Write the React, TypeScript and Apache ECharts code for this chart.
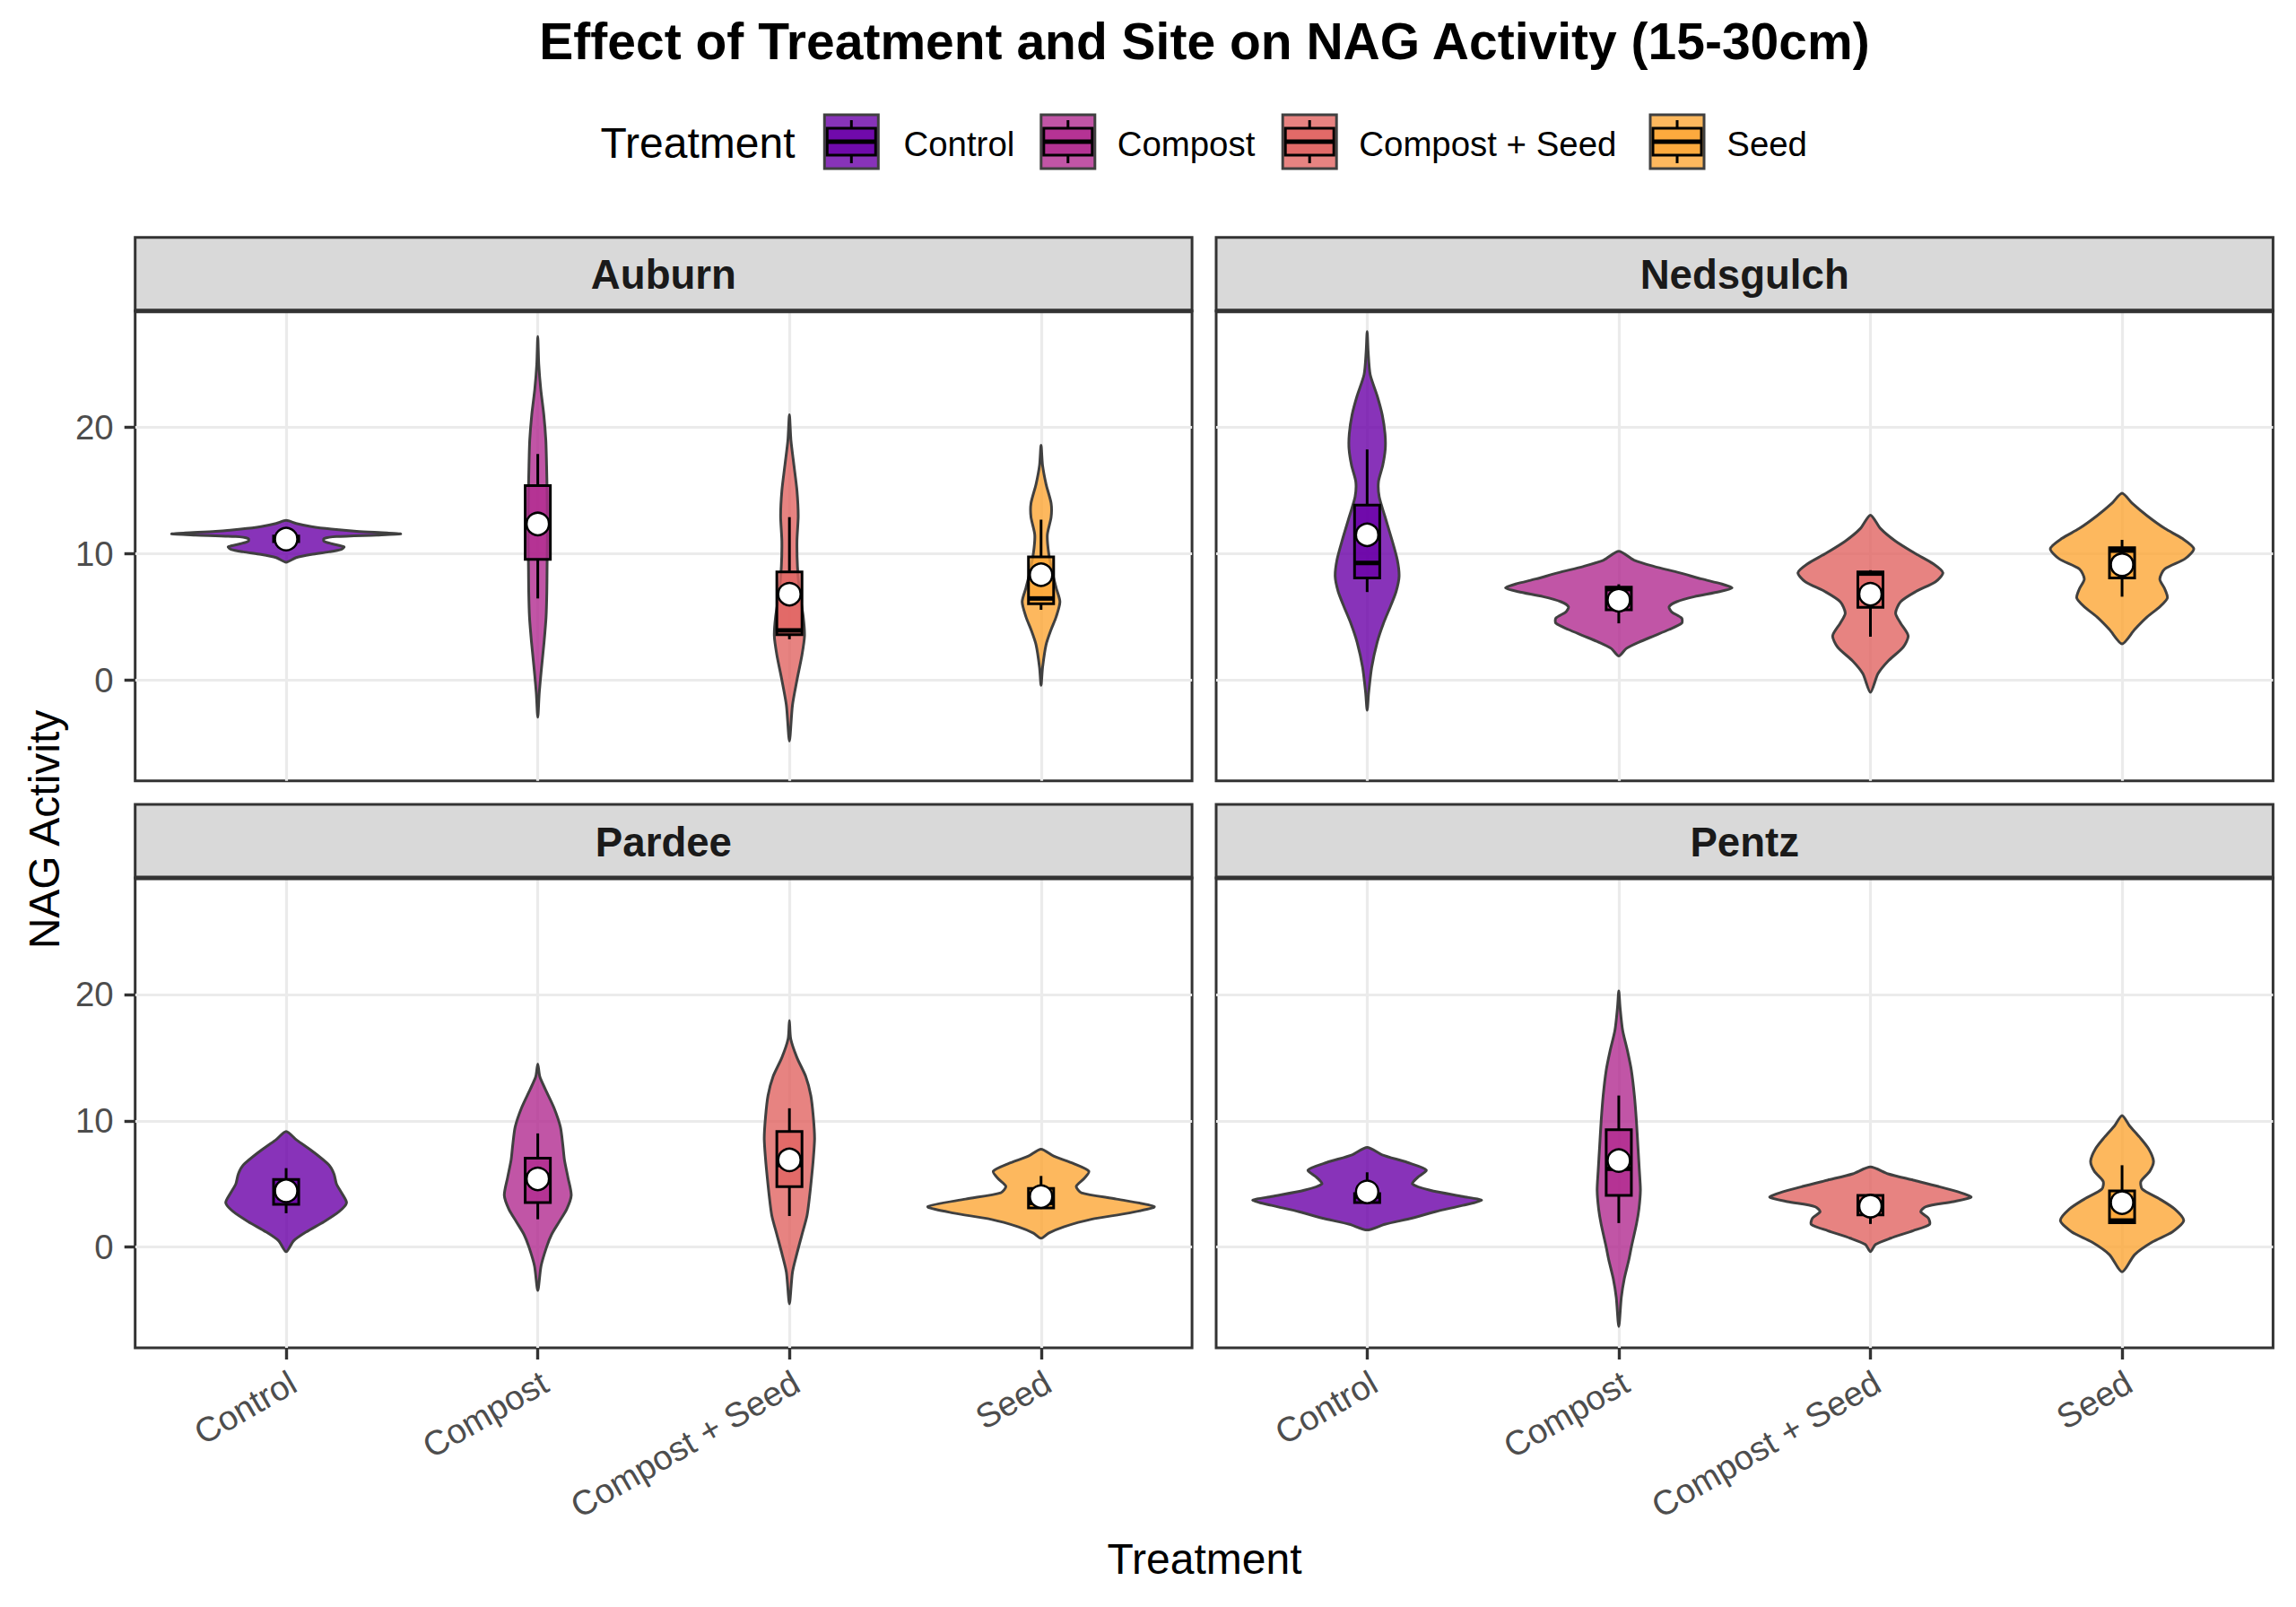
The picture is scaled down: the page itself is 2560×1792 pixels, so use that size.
import React, { useEffect, useRef } from "react";
import * as echarts from "echarts";

// ---------------- data ----------------
const sites = ["Auburn", "Nedsgulch", "Pardee", "Pentz"];
const treatments = ["Control", "Compost", "Compost + Seed", "Seed"];
const yTickValues = [0, 10, 20];

// violin outlines per treatment: [value, half-width in category units]
const violinAuburn: number[][][] = [
  [[12.64,0],[12.4,0.04],[12.15,0.1],[11.95,0.18],[11.78,0.28],[11.65,0.4],[11.57,0.455],[11.48,0.36],[11.36,0.2],[11.2,0.15],[11.0,0.15],[10.8,0.18],[10.55,0.23],[10.35,0.22],[10.15,0.17],[9.95,0.1],[9.7,0.04],[9.33,0]],
  [[27.2,0],[25,0.004],[23,0.012],[21,0.024],[19,0.032],[17,0.035],[15,0.037],[13,0.038],[11,0.038],[9,0.037],[7,0.036],[5,0.033],[3,0.025],[1,0.015],[-1,0.006],[-2.95,0]],
  [[21.0,0],[19,0.006],[17,0.018],[15,0.03],[13,0.035],[11,0.03],[9,0.032],[7,0.04],[5,0.055],[3.5,0.06],[2,0.05],[0,0.03],[-2,0.012],[-4.83,0]],
  [[18.6,0],[17,0.006],[15.5,0.02],[14,0.04],[12.9,0.04],[11.5,0.025],[10.1,0.03],[8.5,0.045],[7.3,0.06],[6.2,0.075],[5,0.06],[4,0.04],[2.8,0.02],[1,0.006],[-0.42,0]],
];
const violinNedsgulch: number[][][] = [
  [[27.6,0],[26,0.004],[24.2,0.012],[22.5,0.04],[21,0.06],[19.5,0.071],[18.3,0.072],[17,0.062],[15.7,0.045],[14.5,0.048],[13,0.07],[11,0.1],[9.5,0.12],[8.2,0.127],[7,0.115],[5.9,0.094],[4.5,0.065],[3,0.04],[1,0.018],[-1,0.006],[-2.4,0]],
  [[10.2,0],[9.5,0.06],[9.0,0.14],[8.5,0.24],[8.0,0.33],[7.6,0.41],[7.3,0.45],[7.0,0.4],[6.6,0.3],[6.2,0.23],[5.8,0.2],[5.4,0.21],[4.9,0.25],[4.5,0.25],[4.0,0.2],[3.5,0.14],[3.0,0.08],[2.5,0.03],[1.9,0]],
  [[13.06,0],[12,0.04],[11,0.1],[10,0.18],[9.2,0.25],[8.5,0.288],[7.8,0.26],[7,0.18],[6.2,0.12],[5.3,0.1],[4.5,0.12],[3.5,0.15],[2.6,0.13],[1.5,0.07],[0.5,0.03],[-0.98,0]],
  [[14.8,0],[14,0.04],[13,0.1],[12,0.17],[11.2,0.24],[10.4,0.285],[9.6,0.25],[8.8,0.17],[8,0.15],[7.2,0.17],[6.5,0.18],[5.8,0.15],[5,0.1],[4,0.05],[2.87,0]],
];
const violinPardee: number[][][] = [
  [[9.15,0],[8.5,0.04],[7.5,0.11],[6.5,0.17],[5.8,0.19],[5,0.2],[4.3,0.22],[3.5,0.24],[2.8,0.21],[2,0.15],[1.2,0.08],[0.5,0.03],[-0.37,0]],
  [[14.5,0],[13.5,0.008],[12.5,0.03],[11,0.065],[9.5,0.09],[8,0.1],[6.9,0.106],[5.5,0.12],[4.1,0.133],[3,0.115],[2,0.085],[1,0.055],[0,0.035],[-1.5,0.013],[-3.44,0]],
  [[17.94,0],[16.5,0.005],[15,0.03],[13.5,0.065],[12,0.085],[10.3,0.095],[8.6,0.1],[7,0.095],[5.5,0.088],[4,0.08],[2.5,0.07],[1,0.05],[-0.5,0.03],[-2,0.012],[-4.5,0]],
  [[7.75,0],[7.2,0.05],[6.6,0.13],[6.0,0.19],[5.4,0.17],[4.8,0.14],[4.3,0.16],[3.8,0.3],[3.2,0.45],[2.7,0.35],[2.2,0.2],[1.6,0.09],[1.1,0.03],[0.7,0]],
];
const violinPentz: number[][][] = [
  [[7.89,0],[7.3,0.06],[6.7,0.16],[6.1,0.235],[5.5,0.2],[5.0,0.18],[4.5,0.25],[4.0,0.38],[3.7,0.455],[3.3,0.38],[2.8,0.27],[2.3,0.18],[1.8,0.07],[1.35,0]],
  [[20.28,0],[19,0.005],[17.2,0.015],[15.5,0.035],[14,0.05],[12,0.062],[10,0.07],[8,0.076],[6,0.082],[4.5,0.086],[3,0.08],[1.8,0.07],[0,0.05],[-1,0.04],[-2.5,0.022],[-4,0.01],[-6.3,0]],
  [[6.34,0],[5.8,0.07],[5.3,0.17],[4.8,0.27],[4.3,0.36],[3.95,0.4],[3.6,0.33],[3.2,0.22],[2.8,0.2],[2.3,0.23],[1.8,0.235],[1.3,0.17],[0.7,0.08],[0.2,0.02],[-0.37,0]],
  [[10.42,0],[9.6,0.03],[8.7,0.07],[7.8,0.105],[6.8,0.125],[6,0.11],[5.2,0.075],[4.6,0.08],[3.8,0.15],[3.0,0.21],[2.1,0.245],[1.2,0.2],[0.4,0.12],[-0.6,0.05],[-1.97,0]],
];

// boxplot stats: [lower whisker, q1, median, q3, upper whisker]
const boxAuburn = [[10.75,10.95,11.1,11.4,11.6],[6.46,9.55,12.2,15.4,17.9],[3.23,3.6,3.93,8.57,12.9],[5.56,6.04,6.46,9.75,12.7]];
const boxNedsgulch = [[6.97,8.09,9.27,13.85,18.26],[4.49,5.56,7.2,7.36,7.58],[3.43,5.76,8.43,8.57,8.7],[6.6,8.09,10.25,10.48,11.1]];
const boxPardee = [[2.68,3.38,4.3,5.35,6.25],[2.2,3.52,5.3,7.04,9.0],[2.46,4.79,6.5,9.15,10.99],[3.05,3.1,3.5,4.65,5.63]];
const boxPentz = [[3.4,3.52,4.0,4.23,5.92],[1.9,4.09,6.2,9.3,12.0],[1.83,2.54,3.2,4.09,4.23],[1.92,1.92,2.1,4.45,6.48]];

// group means
const meanAuburn = [11.16, 12.36, 6.8, 8.34];
const meanNedsgulch = [11.5, 6.32, 6.8, 9.13];
const meanPardee = [4.45, 5.4, 6.9, 4.0];
const meanPentz = [4.37, 6.85, 3.24, 3.52];

const violins = [violinAuburn, violinNedsgulch, violinPardee, violinPentz];
const boxes = [boxAuburn, boxNedsgulch, boxPardee, boxPentz];
const means = [meanAuburn, meanNedsgulch, meanPardee, meanPentz];

// ---------------- styling / layout ----------------
const FONT = "'Liberation Sans', Arial, Helvetica, sans-serif";
const fills = ["rgba(106,0,168,0.8)", "rgba(177,42,144,0.8)", "rgba(225,100,98,0.8)", "rgba(252,166,54,0.8)"];
const PANEL_W = 1178.4;
const PANEL_H = 524;
const panelPos = [
  { left: 150.7, top: 346.7 },
  { left: 1356, top: 346.7 },
  { left: 150.7, top: 979 },
  { left: 1356, top: 979 },
];
const STRIP_H = 82;
const Y_MIN = -7.98;
const Y_MAX = 29.23;
const LW = 3;

function makeRender(siteIdx: number) {
  return (params: any, api: any) => {
    const t = api.value(0) as number;
    const prof = violins[siteIdx][t - 1];
    const right = prof.map(([y, w]) => api.coord([t + w, y]));
    const left = prof.slice(1, -1).reverse().map(([y, w]) => api.coord([t - w, y]));
    const [lo, q1, med, q3, hi] = boxes[siteIdx][t - 1];
    const c = (x: number, y: number) => api.coord([x, y]);
    const bTL = c(t - 0.05, q3);
    const bBR = c(t + 0.05, q1);
    const mL = c(t - 0.05, med);
    const mR = c(t + 0.05, med);
    const wTop = c(t, hi);
    const wQ3 = c(t, q3);
    const wQ1 = c(t, q1);
    const wBot = c(t, lo);
    return {
      type: "group",
      children: [
        {
          type: "polygon",
          shape: { points: right.concat(left), smooth: 0.25 },
          style: { fill: fills[t - 1], stroke: "#404040", lineWidth: LW },
        },
        {
          type: "line",
          shape: { x1: wTop[0], y1: wTop[1], x2: wQ3[0], y2: wQ3[1] },
          style: { stroke: "#000", lineWidth: LW },
        },
        {
          type: "line",
          shape: { x1: wQ1[0], y1: wQ1[1], x2: wBot[0], y2: wBot[1] },
          style: { stroke: "#000", lineWidth: LW },
        },
        {
          type: "rect",
          shape: { x: bTL[0], y: bTL[1], width: bBR[0] - bTL[0], height: bBR[1] - bTL[1] },
          style: { fill: fills[t - 1], stroke: "#000", lineWidth: LW },
        },
        {
          type: "line",
          shape: { x1: mL[0], y1: mL[1], x2: mR[0], y2: mR[1] },
          style: { stroke: "#000", lineWidth: 5 },
        },
      ],
    };
  };
}

function buildOption() {
  const grid = panelPos.map((p) => ({
    left: p.left,
    top: p.top,
    width: PANEL_W,
    height: PANEL_H,
    show: true,
    backgroundColor: "#FFFFFF",
    borderColor: "#333333",
    borderWidth: LW,
    containLabel: false,
    outerBoundsMode: "none",
  }));

  const xAxis = panelPos.map((_, i) => {
    const bottom = i >= 2;
    return {
      type: "value",
      gridIndex: i,
      min: 0.4,
      max: 4.6,
      axisLine: { show: false, onZero: false },
      axisTick: {
        show: bottom,
        customValues: [1, 2, 3, 4],
        length: 13,
        lineStyle: { color: "#333333", width: 3.4 },
      },
      axisLabel: {
        show: bottom,
        customValues: [1, 2, 3, 4],
        formatter: (v: number) => treatments[Math.round(v) - 1] || "",
        rotate: 30,
        margin: 40,
        padding: [0, -9, 0, 0],
        fontSize: 38.4,
        color: "#4D4D4D",
        fontFamily: FONT,
      },
      splitLine: { show: true, lineStyle: { color: "#EBEBEB", width: 3.2 } },
    };
  });

  const yAxis = panelPos.map((_, i) => {
    const leftCol = i % 2 === 0;
    return {
      type: "value",
      gridIndex: i,
      min: Y_MIN,
      max: Y_MAX,
      axisLine: { show: false, onZero: false },
      axisTick: {
        show: leftCol,
        customValues: yTickValues,
        length: 12,
        lineStyle: { color: "#333333", width: 3.4 },
      },
      axisLabel: {
        show: leftCol,
        customValues: yTickValues,
        margin: 24,
        fontSize: 38.4,
        color: "#4D4D4D",
        fontFamily: FONT,
      },
      splitLine: { show: true, lineStyle: { color: "#EBEBEB", width: 3.2 } },
    };
  });

  const series: any[] = [];
  sites.forEach((_, i) => {
    series.push({
      type: "custom",
      xAxisIndex: i,
      yAxisIndex: i,
      silent: true,
      z: 2,
      data: treatments.map((__, k) => [k + 1, means[i][k]]),
      renderItem: makeRender(i),
    });
    series.push({
      type: "scatter",
      xAxisIndex: i,
      yAxisIndex: i,
      silent: true,
      z: 3,
      symbol: "circle",
      symbolSize: 25,
      itemStyle: { color: "#FFFFFF", borderColor: "#000000", borderWidth: 2.5, opacity: 1 },
      data: means[i].map((m, k) => [k + 1, m]),
    });
  });

  const graphic: any[] = [];
  // title
  graphic.push({
    type: "text",
    x: 1343,
    y: 46,
    style: {
      text: "Effect of Treatment and Site on NAG Activity (15-30cm)",
      fontSize: 57,
      fontWeight: "bold",
      fontFamily: FONT,
      fill: "#000000",
      align: "center",
      verticalAlign: "middle",
    },
  });
  // legend
  graphic.push({
    type: "text",
    x: 669.5,
    y: 159,
    style: {
      text: "Treatment",
      fontSize: 48,
      fontFamily: FONT,
      fill: "#000000",
      align: "left",
      verticalAlign: "middle",
    },
  });
  const keyLeft = [919.3, 1160.8, 1430.2, 1840];
  const labelLeft = [1007.5, 1245.7, 1515.3, 1925.3];
  const keyTop = 128;
  const keySize = 60;
  treatments.forEach((name, k) => {
    const x0 = keyLeft[k];
    const cx = x0 + keySize / 2;
    graphic.push({
      type: "rect",
      shape: { x: x0, y: keyTop, width: keySize, height: keySize },
      style: { fill: fills[k], stroke: "#404040", lineWidth: LW },
    });
    graphic.push({
      type: "line",
      shape: { x1: cx, y1: keyTop + 6, x2: cx, y2: keyTop + 15 },
      style: { stroke: "#000", lineWidth: LW },
    });
    graphic.push({
      type: "line",
      shape: { x1: cx, y1: keyTop + 45, x2: cx, y2: keyTop + 54 },
      style: { stroke: "#000", lineWidth: LW },
    });
    graphic.push({
      type: "rect",
      shape: { x: x0 + 3, y: keyTop + 15, width: keySize - 6, height: 30 },
      style: { fill: fills[k], stroke: "#000", lineWidth: LW },
    });
    graphic.push({
      type: "line",
      shape: { x1: x0 + 3, y1: keyTop + 30, x2: x0 + keySize - 3, y2: keyTop + 30 },
      style: { stroke: "#000", lineWidth: 5 },
    });
    graphic.push({
      type: "text",
      x: labelLeft[k],
      y: 160,
      style: {
        text: name,
        fontSize: 38.4,
        fontFamily: FONT,
        fill: "#000000",
        align: "left",
        verticalAlign: "middle",
      },
    });
  });
  // strips
  sites.forEach((name, i) => {
    const p = panelPos[i];
    const top = p.top - STRIP_H;
    graphic.push({
      type: "rect",
      z: 10,
      shape: { x: p.left, y: top, width: PANEL_W, height: STRIP_H },
      style: { fill: "#D9D9D9", stroke: "#333333", lineWidth: LW },
    });
    graphic.push({
      type: "line",
      z: 10,
      shape: { x1: p.left, y1: p.top, x2: p.left + PANEL_W, y2: p.top },
      style: { stroke: "#333333", lineWidth: 5 },
    });
    graphic.push({
      type: "text",
      z: 11,
      x: p.left + PANEL_W / 2,
      y: top + STRIP_H / 2 + 1,
      style: {
        text: name,
        fontSize: 45.6,
        fontWeight: "bold",
        fontFamily: FONT,
        fill: "#1A1A1A",
        align: "center",
        verticalAlign: "middle",
      },
    });
  });
  // axis titles
  graphic.push({
    type: "text",
    x: 1343,
    y: 1738,
    style: {
      text: "Treatment",
      fontSize: 48,
      fontFamily: FONT,
      fill: "#000000",
      align: "center",
      verticalAlign: "middle",
    },
  });
  graphic.push({
    type: "text",
    x: 49,
    y: 925,
    rotation: Math.PI / 2,
    style: {
      text: "NAG Activity",
      fontSize: 48,
      fontFamily: FONT,
      fill: "#000000",
      align: "center",
      verticalAlign: "middle",
    },
  });

  return {
    animation: false,
    backgroundColor: "#FFFFFF",
    grid,
    xAxis,
    yAxis,
    series,
    graphic,
  };
}

export default function App() {
  const ref = useRef<HTMLDivElement>(null);
  useEffect(() => {
    if (!ref.current) return;
    const chart = echarts.init(ref.current, null, { renderer: "svg" });
    chart.setOption(buildOption() as any);
    return () => {
      chart.dispose();
    };
  }, []);
  return (
    <div
      ref={ref}
      style={{ position: "absolute", left: 0, top: 0, width: "2560px", height: "1792px" }}
    />
  );
}
